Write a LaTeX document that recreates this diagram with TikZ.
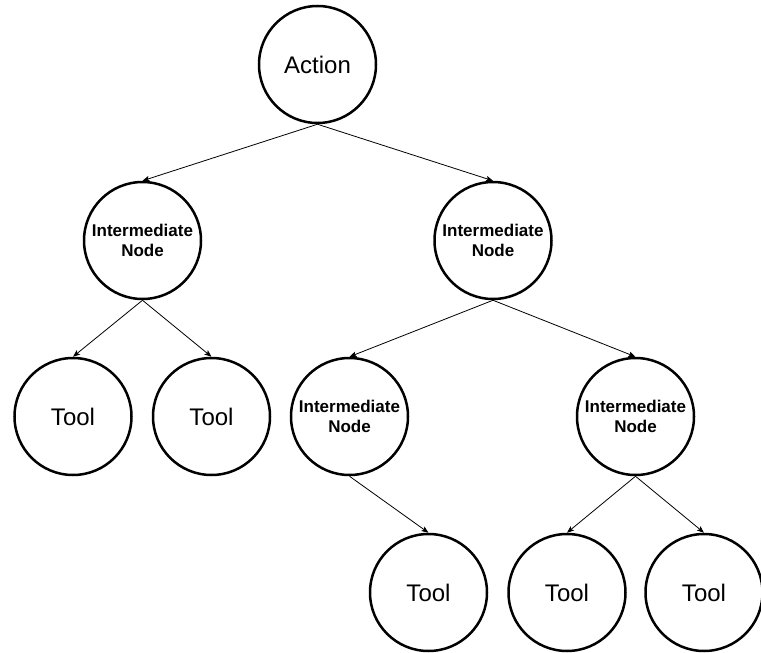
\documentclass[tikz,border=0pt]{standalone}
\usepackage{fontspec}
\setmainfont{Liberation Sans}
\usetikzlibrary{arrows.meta}
\tikzset{
  circ/.style={circle, draw=black, line width=2.5pt, minimum size=117pt, inner sep=0pt, align=center},
  bigtxt/.style={circ, font=\fontsize{24}{29}\selectfont},
  midtxt/.style={circ, font=\bfseries\fontsize{17}{20.5}\selectfont},
  conn/.style={line width=0.8pt, -{Stealth[length=7pt,width=5.5pt,inset=1.5pt]}}
}
\begin{document}
\begin{tikzpicture}[x=1pt,y=-1pt]
\useasboundingbox (0,0) rectangle (761,653);
\node[bigtxt] (A) at (317.5,64.5) {Action};
\node[midtxt] (I1) at (142.5,240.5) {Intermediate\\Node};
\node[midtxt] (I2) at (493,240.5) {Intermediate\\Node};
\node[bigtxt] (T1) at (73,416.5) {Tool};
\node[bigtxt] (T2) at (211.5,416.5) {Tool};
\node[midtxt] (I3) at (349.5,416.5) {Intermediate\\Node};
\node[midtxt] (I4) at (635.5,416.5) {Intermediate\\Node};
\node[bigtxt] (T3) at (428.5,592.5) {Tool};
\node[bigtxt] (T4) at (567,592.5) {Tool};
\node[bigtxt] (T5) at (704,592.5) {Tool};
\draw[conn] (A.south) -- (I1.north);
\draw[conn] (A.south) -- (I2.north);
\draw[conn] (I1.south) -- (T1.north);
\draw[conn] (I1.south) -- (T2.north);
\draw[conn] (I2.south) -- (I3.north);
\draw[conn] (I2.south) -- (I4.north);
\draw[conn] (I3.south) -- (T3.north);
\draw[conn] (I4.south) -- (T4.north);
\draw[conn] (I4.south) -- (T5.north);
\end{tikzpicture}
\end{document}
